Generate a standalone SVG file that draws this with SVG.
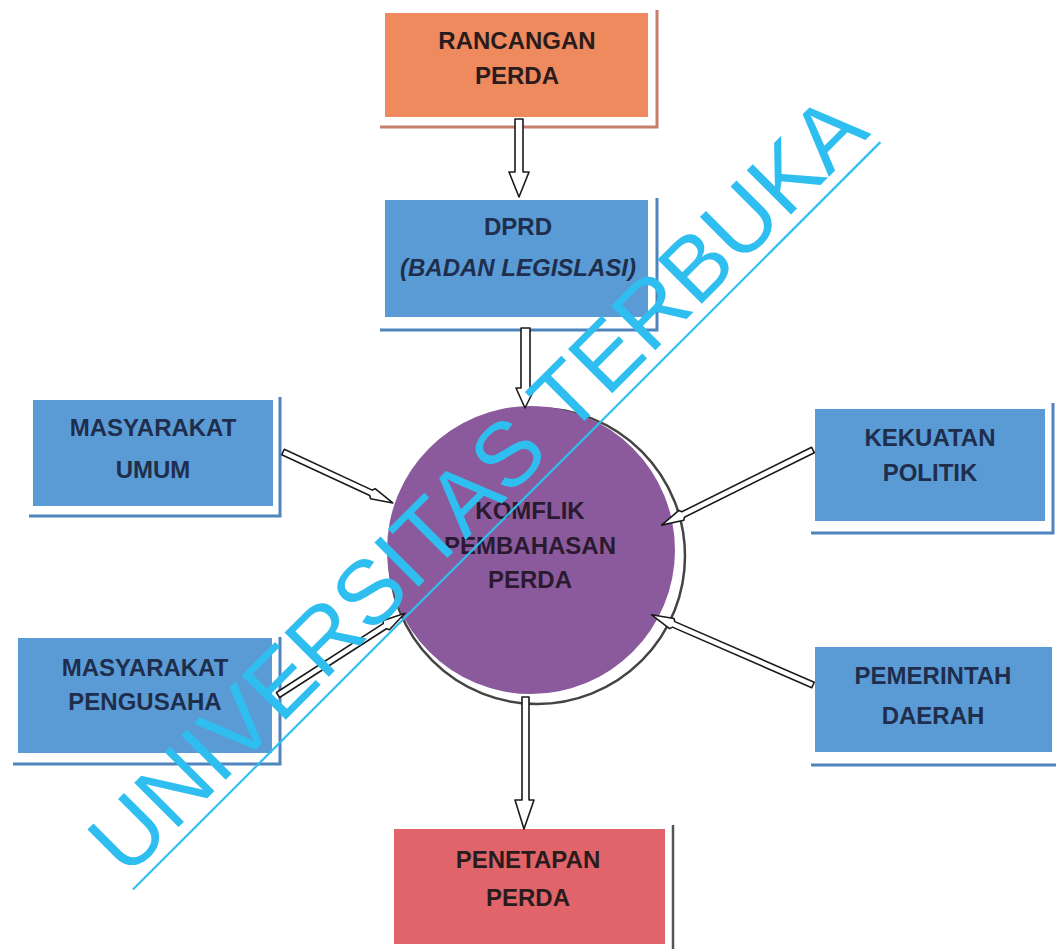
<svg xmlns="http://www.w3.org/2000/svg" width="1056" height="949" viewBox="0 0 1056 949">
<style>
.lbl{font-family:"Liberation Sans",Arial,sans-serif;font-weight:bold;font-size:24px;text-anchor:middle;}
.blue{fill:#5B9BD5;}
.bt{fill:#1F2E4C;}
.dk{fill:#2A1C1C;}
.shb{stroke:#4F84BF;stroke-width:3;fill:none;}
.arw{fill:#fff;stroke:#1a1a1a;stroke-width:1.6;stroke-linejoin:round;}
.wm{font-family:"Liberation Sans",Arial,sans-serif;font-size:91px;fill:#2FBEF0;text-anchor:middle;}
</style>
<rect width="1056" height="949" fill="#fff"/>

<g id="rancangan">
<path d="M380,127 H657 V10" stroke="#C77E6E" stroke-width="3" fill="none"/>
<rect x="385" y="13" width="263" height="104" fill="#EF8A5E"/>
<text class="lbl dk" x="517" y="49">RANCANGAN</text>
<text class="lbl dk" x="517" y="84">PERDA</text>
</g>

<g id="dprd">
<path class="shb" d="M380,330 H657 V198"/>
<rect class="blue" x="385" y="200" width="263" height="117"/>
<text class="lbl bt" x="518" y="235">DPRD</text>
<text class="lbl bt" x="518" y="276" font-style="italic" font-size="23">(BADAN LEGISLASI)</text>
</g>

<g id="masyarakat-umum">
<path class="shb" d="M29,516 H280 V397"/>
<rect class="blue" x="33" y="400" width="240" height="106"/>
<text class="lbl bt" x="153" y="436">MASYARAKAT</text>
<text class="lbl bt" x="153" y="478">UMUM</text>
</g>

<g id="masyarakat-pengusaha">
<path class="shb" d="M13,764 H280 V637"/>
<rect class="blue" x="18" y="638" width="254" height="115"/>
<text class="lbl bt" x="145" y="676">MASYARAKAT</text>
<text class="lbl bt" x="145" y="710">PENGUSAHA</text>
</g>

<g id="kekuatan-politik">
<path class="shb" d="M811,533 H1053 V403"/>
<rect class="blue" x="815" y="409" width="230" height="112"/>
<text class="lbl bt" x="930" y="446">KEKUATAN</text>
<text class="lbl bt" x="930" y="481">POLITIK</text>
</g>

<g id="pemerintah-daerah">
<path class="shb" d="M811,765 H1056"/>
<rect class="blue" x="815" y="647" width="237" height="105"/>
<text class="lbl bt" x="933" y="684">PEMERINTAH</text>
<text class="lbl bt" x="933" y="724">DAERAH</text>
</g>

<g id="penetapan">
<path d="M673,825 V949" stroke="#555" stroke-width="2.5" fill="none"/>
<rect x="394" y="829" width="271" height="115" fill="#E0646A"/>
<text class="lbl dk" x="528" y="868">PENETAPAN</text>
<text class="lbl dk" x="528" y="906">PERDA</text>
</g>

<g id="konflik">
<circle cx="537" cy="556" r="148" fill="#fff" stroke="#444" stroke-width="2.5"/>
<circle cx="531" cy="550" r="144" fill="#8B5A9C"/>
<text class="lbl" fill="#2A1A30" x="530" y="519">KOMFLIK</text>
<text class="lbl" fill="#2A1A30" x="530" y="554">PEMBAHASAN</text>
<text class="lbl" fill="#2A1A30" x="530" y="588">PERDA</text>
</g>

<g id="connectors">
<path class="arw" d="M515,119 L523,119 L523,172 L529,172 L519,197 L509,172 L515,172 Z"/>
<path class="arw" d="M521,328 L530,328 L530,388 L535,388 L525,408 L516,388 L521,388 Z"/>
<path class="arw" d="M522,697 L529,697 L529,800 L534,800 L524,829 L515,800 L522,800 Z"/>
<path class="arw" transform="translate(283,452) rotate(24.9)" d="M0,-3 L97,-3 L99,-5.5 L121,0 L99,5.5 L97,3 L0,3 Z"/>
<path class="arw" transform="translate(278,695) rotate(-32.8)" d="M0,-3 L127,-3 L129,-5.5 L151,0 L129,5.5 L127,3 L0,3 Z"/>
<path class="arw" transform="translate(813,450) rotate(153.6)" d="M0,-3 L145,-3 L147,-5.5 L169,0 L147,5.5 L145,3 L0,3 Z"/>
<path class="arw" transform="translate(813,685) rotate(-156.5)" d="M0,-3 L152,-3 L154,-5.5 L176,0 L154,5.5 L152,3 L0,3 Z"/>
</g>

<g id="watermark" transform="rotate(-45)">
<text class="wm" x="-5" y="711">UNIVERSITAS TERBUKA</text>
<line x1="-535" y1="723" x2="522" y2="723" stroke="#2FBEF0" stroke-width="2.2"/>
</g>
</svg>
